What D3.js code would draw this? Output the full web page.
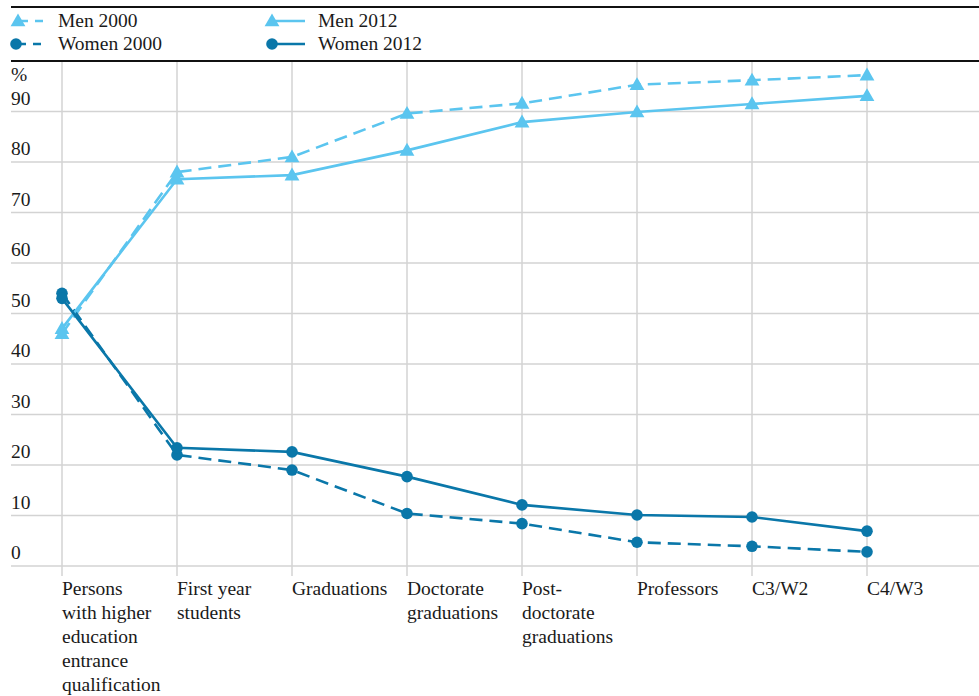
<!DOCTYPE html>
<html><head><meta charset="utf-8">
<script src="https://cdn.jsdelivr.net/npm/d3@7"></script>
<style>body{margin:0;background:#fff}svg{display:block}text{font-family:"Liberation Serif","Times New Roman",serif;fill:#1a1a1a}</style>
</head><body>
<svg id="c" width="979" height="696"></svg>
<script>
const categories = ["Persons with higher education entrance qualification","First year students","Graduations","Doctorate graduations","Post-doctorate graduations","Professors","C3/W2","C4/W3"];
const categoryLines = [["Persons","with higher","education","entrance","qualification"],["First year","students"],["Graduations"],["Doctorate","graduations"],["Post-","doctorate","graduations"],["Professors"],["C3/W2"],["C4/W3"]];
const men2000   = [46, 78, 81, 89.6, 91.6, 95.3, 96.2, 97.2];
const women2000 = [54, 22, 19, 10.4, 8.4, 4.7, 3.9, 2.8];
const men2012   = [47, 76.6, 77.4, 82.3, 87.9, 89.9, 91.5, 93.1];
const women2012 = [53, 23.4, 22.6, 17.7, 12.1, 10.1, 9.7, 6.9];
const yTicks = [0,10,20,30,40,50,60,70,80,90];
const seriesNames = ["Men 2000","Women 2000","Men 2012","Women 2012"];

const light = "#5bc5ef", dark = "#0a77a9";
const FS = 19.5;
const series = [
  {name: seriesNames[0], values: men2000, color: light, dash: "13,7", sym: "tri"},
  {name: seriesNames[1], values: women2000, color: dark, dash: "13,7", sym: "circ"},
  {name: seriesNames[2], values: men2012, color: light, dash: null, sym: "tri"},
  {name: seriesNames[3], values: women2012, color: dark, dash: null, sym: "circ"}
];

const svg = d3.select("#c");
const x = d3.scalePoint().domain(categories).range([62, 867]);
const y = d3.scaleLinear().domain([0, 100]).range([566, 61]);

// horizontal grid
svg.append("g").selectAll("line").data(yTicks).join("line")
  .attr("x1", 11).attr("x2", 979).attr("y1", d => y(d)).attr("y2", d => y(d))
  .attr("stroke", "#d3d3d3").attr("stroke-width", 1.5);
// vertical grid
svg.append("g").selectAll("line").data(categories).join("line")
  .attr("x1", d => x(d)).attr("x2", d => x(d)).attr("y1", y(100)).attr("y2", 576)
  .attr("stroke", "#d3d3d3").attr("stroke-width", 1.5);
// top rules
svg.append("line").attr("x1", 11).attr("x2", 979).attr("y1", y(100)).attr("y2", y(100)).attr("stroke", "#111").attr("stroke-width", 2);
svg.append("line").attr("x1", 11).attr("x2", 979).attr("y1", 7).attr("y2", 7).attr("stroke", "#111").attr("stroke-width", 2);

// y labels
svg.append("g").selectAll("text").data(yTicks).join("text")
  .attr("x", 11).attr("y", d => y(d) - 7).attr("font-size", FS).text(d => d);
svg.append("text").attr("x", 11).attr("y", 81).attr("font-size", FS).text("%");

// x labels
const xl = svg.append("g").selectAll("text").data(categories).join("text")
  .attr("x", d => x(d)).attr("y", 595).attr("font-size", FS);
xl.each(function(d, i) {
  d3.select(this).selectAll("tspan").data(categoryLines[i]).join("tspan")
    .attr("x", x(d)).attr("dy", (t, j) => j === 0 ? 0 : 24).text(t => t);
});

const tri = d3.symbol().type(d3.symbolTriangle).size(95);
function marker(g, s, cx, cy) {
  if (s.sym === "tri") g.append("path").attr("d", tri()).attr("transform", `translate(${cx},${cy + 1})`).attr("fill", s.color);
  else g.append("circle").attr("cx", cx).attr("cy", cy).attr("r", 5.8).attr("fill", s.color);
}

const line = d3.line().x((d, i) => x(categories[i])).y(d => y(d));
series.forEach(s => {
  const g = svg.append("g");
  g.append("path").attr("d", line(s.values)).attr("fill", "none").attr("stroke", s.color)
    .attr("stroke-width", 2.6).attr("stroke-dasharray", s.dash);
  s.values.forEach((v, i) => marker(g, s, x(categories[i]), y(v)));
});

// legend
const legPos = [{mx: 18, x1: 45, tx: 58, ty: 21}, {mx: 16, x1: 45, tx: 58, ty: 44},
                {mx: 272, x1: 305, tx: 318, ty: 21}, {mx: 272, x1: 305, tx: 318, ty: 44}];
series.forEach((s, i) => {
  const p = legPos[i];
  const g = svg.append("g");
  g.append("line").attr("x1", p.mx).attr("x2", p.x1).attr("y1", p.ty).attr("y2", p.ty)
    .attr("stroke", s.color).attr("stroke-width", 2.6).attr("stroke-dasharray", s.dash ? "8,7" : null)
    .attr("stroke-dashoffset", s.dash ? -2 : 0);
  marker(g, s, p.mx, p.ty);
  g.append("text").attr("x", p.tx).attr("y", p.ty + 6).attr("font-size", FS).text(s.name);
});
</script>
</body></html>
